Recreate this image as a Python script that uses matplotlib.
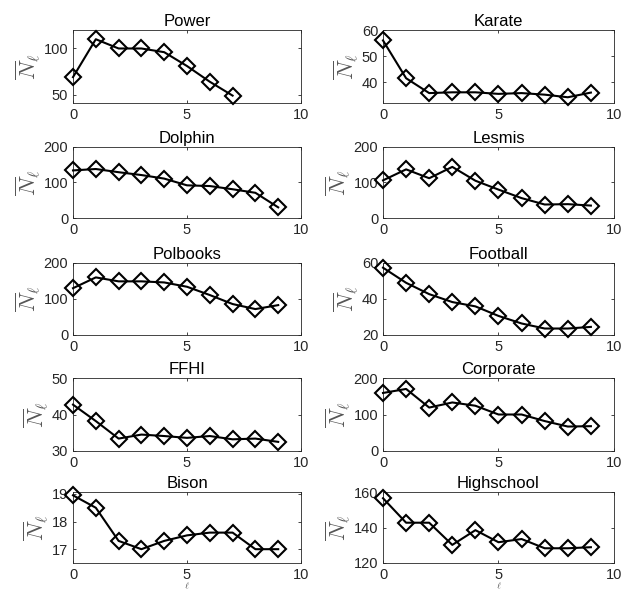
import matplotlib
matplotlib.use('Agg')
import matplotlib.pyplot as plt

# average N_l per level l for each network
power = [69, 110, 100, 100, 96, 81, 64, 49]
karate = [56, 41.5, 35.8, 36.1, 36.1, 35.5, 35.8, 35.2, 34.2, 36]
dolphin = [134, 138, 129, 121, 111, 92, 90, 81, 71, 30]
lesmis = [106, 137, 112, 144, 105, 80, 56, 38, 39, 35]
polbooks = [130, 160, 149, 149, 146, 134, 111, 86, 72, 83]
football = [57.4, 49, 42.7, 38.3, 35.9, 30.6, 26.4, 23.6, 23.6, 24.5]
ffhi = [42.7, 38.2, 33.4, 34.5, 34.1, 33.6, 34.1, 33.2, 33.4, 32.5]
corporate = [159, 170, 119, 133, 124, 100, 100, 82, 67, 68]
bison = [18.95, 18.5, 17.3, 17.0, 17.3, 17.5, 17.6, 17.6, 17.0, 17.0]
highschool = [156.5, 142.7, 142.7, 130.2, 138.5, 131.7, 133.5, 128.3, 128.3, 128.9]

titles = ['Power', 'Karate', 'Dolphin', 'Lesmis', 'Polbooks', 'Football',
          'FFHI', 'Corporate', 'Bison', 'Highschool']
series = [power, karate, dolphin, lesmis, polbooks, football,
          ffhi, corporate, bison, highschool]
ylims = [(41, 120), (32, 60), (0, 200), (0, 200), (0, 200), (20, 60),
         (30, 50), (0, 200), (16.5, 19.07), (120, 160)]
yticks = [[50, 100], [40, 50, 60], [0, 100, 200], [0, 100, 200], [0, 100, 200],
          [20, 40, 60], [30, 40, 50], [0, 100, 200], [17, 18, 19], [120, 140, 160]]

W, H = 631, 592
col_x = [(73, 301), (383, 614)]
row_y = [(30, 103), (147, 218), (263, 335), (378, 451), (492, 563)]

grey = '#262626'
plt.rcParams['font.family'] = ['Liberation Sans', 'DejaVu Sans']
plt.rcParams['mathtext.fontset'] = 'cm'

fig = plt.figure(figsize=(W / 100, H / 100), dpi=100)

for i, (name, vals) in enumerate(zip(titles, series)):
    r, c = divmod(i, 2)
    x0, x1 = col_x[c]
    top, bot = row_y[r]
    ax = fig.add_axes([x0 / W, 1 - bot / H, (x1 - x0) / W, (bot - top) / H])
    ax.plot(range(len(vals)), vals, color='k', linewidth=1.5, marker='D',
            markersize=8.5, markerfacecolor='none', markeredgewidth=1.5,
            clip_on=False, zorder=3)
    ax.set_xlim(0, 10)
    ax.set_ylim(*ylims[i])
    ax.set_xticks([0, 5, 10])
    ax.set_yticks(yticks[i])
    ax.tick_params(direction='in', length=2.5, width=0.6, top=True, right=True,
                   labelsize=10.5, colors=grey, pad=3.5)
    for sp in ax.spines.values():
        sp.set_color(grey)
        sp.set_linewidth(0.6)
    ax.set_title(name, fontsize=12, color='k', pad=3)
    ax.set_ylabel(r'$\overline{N}_\ell$', fontsize=16, color='#555555', labelpad=1)
    if r == 4:
        ax.set_xlabel(r'$\ell$', fontsize=7, color='#555555', labelpad=-1)

fig.savefig('out.png', dpi=100)
